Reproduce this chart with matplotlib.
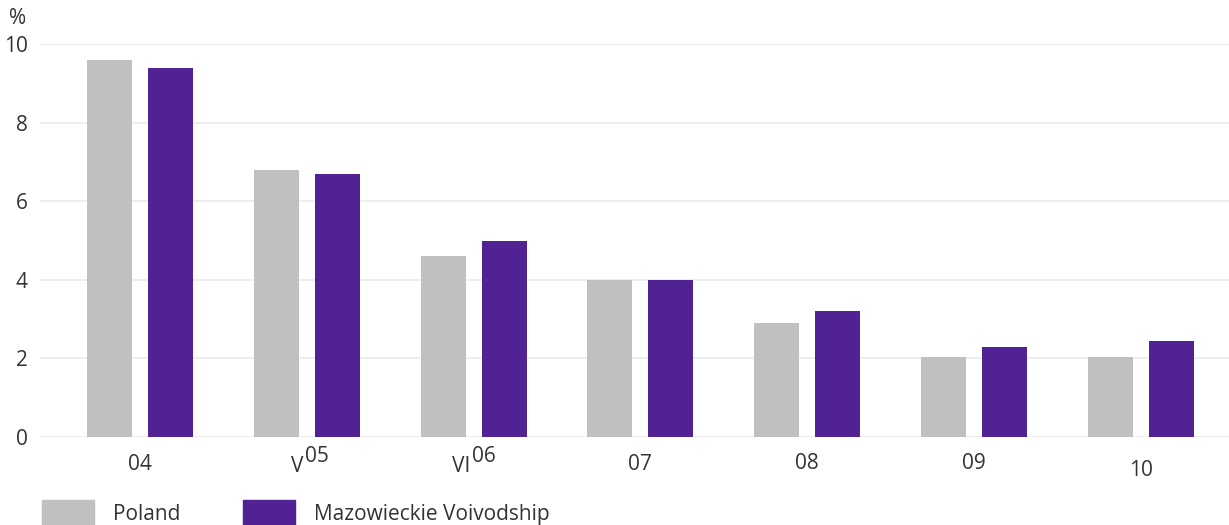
import numpy as np
import matplotlib.pyplot as plt
from matplotlib.patches import Patch
from matplotlib.transforms import blended_transform_factory

plt.rcParams['font.family'] = ['Open Sans', 'DejaVu Sans']

years = ["04", "05", "06", "07", "08", "09", "10"]
roman = ["", "V", "VI", "", "", "", ""]
poland = [9.6, 6.8, 4.6, 4.0, 2.9, 2.05, 2.05]
mazowieckie = [9.4, 6.7, 5.0, 4.0, 3.2, 2.3, 2.45]
# small vertical shifts of the year labels (in points)
label_shift = [0, 5, 5, 0, 1, 1, -4]

grey = "#c0c0c0"
purple = "#512293"
text_col = "#333333"
fs = 15

fig = plt.figure(figsize=(12.29, 5.25), dpi=100)
ax = fig.add_axes([0.0325, 0.1676, 0.9675, 0.748])

x = np.arange(len(years))
w = 0.27
ax.bar(x - 0.183, poland, width=w, color=grey, zorder=3)
ax.bar(x + 0.183, mazowieckie, width=w, color=purple, zorder=3)

ax.set_xlim(-0.6, 6.53)
ax.set_ylim(0, 10)
ax.set_yticks([0, 2, 4, 6, 8, 10])
ax.grid(axis='y', color='#ebebeb', linewidth=1.2, zorder=0)
for s in ax.spines.values():
    s.set_visible(False)
ax.tick_params(axis='y', length=0, pad=9, labelsize=fs, labelcolor=text_col)
ax.tick_params(axis='x', length=0, labelbottom=False)

trans = blended_transform_factory(ax.transData, ax.transAxes)
for i, (yr, rn, dy) in enumerate(zip(years, roman, label_shift)):
    if rn:
        # roman numeral sits just left of the raised year label
        ax.annotate(rn, (i, 0), xycoords=trans, xytext=(-2, -21),
                    textcoords='offset points', ha='right', va='center',
                    fontsize=fs, color=text_col)
        ax.annotate(yr, (i, 0), xycoords=trans, xytext=(-1, -19 + dy),
                    textcoords='offset points', ha='left', va='center',
                    fontsize=fs, color=text_col)
    else:
        ax.annotate(yr, (i, 0), xycoords=trans, xytext=(0, -20 + dy),
                    textcoords='offset points', ha='center', va='center',
                    fontsize=fs, color=text_col)

fig.text(0.007, 0.965, "%", fontsize=fs, color=text_col, va='center')

handles = [Patch(color=grey, label="Poland"),
           Patch(color=purple, label="Mazowieckie Voivodship")]
fig.legend(handles=handles, loc='lower left', bbox_to_anchor=(0.019, -0.037),
           ncol=2, frameon=False, fontsize=fs, handlelength=2.5,
           handleheight=1.5, handletextpad=0.9, columnspacing=3.0,
           labelcolor=text_col)

fig.savefig("out.png", dpi=100)
